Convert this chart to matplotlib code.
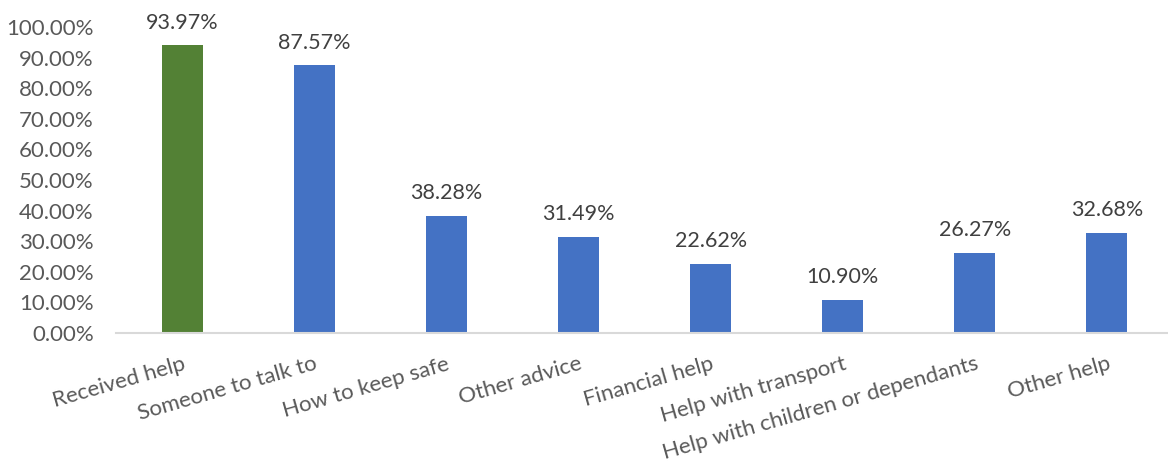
import matplotlib.pyplot as plt
from matplotlib.ticker import FuncFormatter

categories = ["Received help", "Someone to talk to", "How to keep safe", "Other advice",
              "Financial help", "Help with transport", "Help with children or dependants",
              "Other help"]
values = [93.97, 87.57, 38.28, 31.49, 22.62, 10.90, 26.27, 32.68]
bar_colors = ["#538135"] + ["#4472C4"] * 7

plt.rcParams['font.family'] = ['Lato', 'DejaVu Sans']

fig = plt.figure(figsize=(11.68, 4.70), dpi=100)
ax = fig.add_axes([116 / 1168, 1 - 333 / 470, 1057 / 1168, (333 - 27) / 470])

x = range(len(categories))
bars = ax.bar(x, values, width=0.31, color=bar_colors)

# data labels above the bars
for i, v in enumerate(values):
    ax.annotate("%.2f%%" % v, (i, v), xytext=(0, 9), textcoords="offset points",
                ha="center", va="bottom", fontsize=15.5, color="#404040")

ax.set_xlim(-0.5, len(categories) - 0.5)
ax.set_ylim(0, 100)
ax.set_yticks(range(0, 101, 10))
ax.yaxis.set_major_formatter(FuncFormatter(lambda v, p: "%.2f%%" % v))
ax.set_xticks(list(x))
ax.set_xticklabels(categories, rotation=16, ha="right", rotation_mode="anchor")
ax.tick_params(axis="both", length=0, labelsize=16, labelcolor="#595959")
ax.tick_params(axis="y", pad=16)
ax.tick_params(axis="x", pad=15)

for s in ["top", "right", "left"]:
    ax.spines[s].set_visible(False)
ax.spines["bottom"].set_color("#D9D9D9")
ax.spines["bottom"].set_linewidth(1.5)

fig.savefig("out.png", dpi=100)
